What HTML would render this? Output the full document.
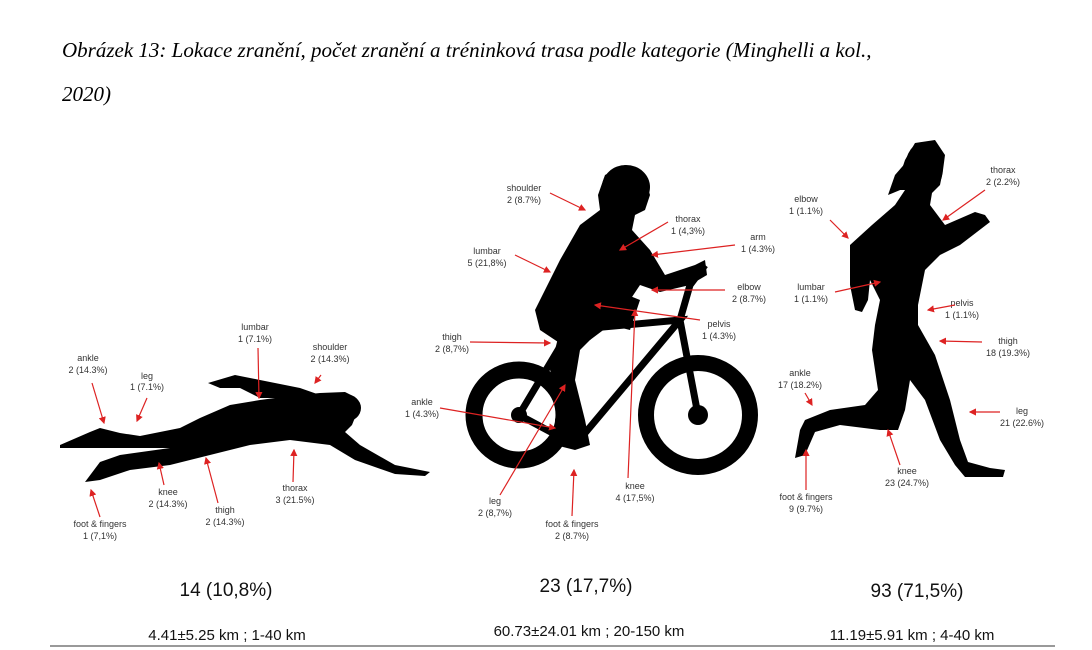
<!DOCTYPE html>
<html><head><meta charset="utf-8"><style>
html,body{margin:0;padding:0;background:#fff;}
svg{display:block}
.t{font-family:"Liberation Serif",serif;font-style:italic;font-size:21px;fill:#000}
.l{font-family:"Liberation Sans",sans-serif;font-size:9px;fill:#333;text-anchor:middle}
.b{font-family:"Liberation Sans",sans-serif;font-size:19px;fill:#111;text-anchor:middle}
.s{font-family:"Liberation Sans",sans-serif;font-size:15px;fill:#111;text-anchor:middle}
.a{stroke:#d22;stroke-width:1.2;fill:none;marker-end:url(#h)}
</style></head><body>
<svg width="1092" height="650" viewBox="0 0 1092 650">
<defs><marker id="h" markerWidth="6" markerHeight="6" refX="5" refY="3" orient="auto"><path d="M0,0L6,3L0,6z" fill="#d22"/></marker></defs>
<text class="t" x="62" y="57">Obrázek 13: Lokace zranění, počet zranění a tréninková trasa podle kategorie (Minghelli a kol.,</text>
<text class="t" x="62" y="101">2020)</text>

<!-- swimmer -->
<g fill="#000">
<path d="M60,445 L90,432 L100,428 L120,433 L140,436 L180,428 L200,418 L230,405 L260,400 L290,396 L320,393 L345,392 L355,397 L360,405 L352,425 L345,432 L360,445 L395,465 L430,472 L425,476 L395,474 L355,460 L330,445 L290,440 L250,445 L210,455 L170,465 L130,470 L100,480 L85,482 L100,462 L120,455 L170,448 L120,448 L60,448z"/>
<path d="M208,383 L235,375 L260,380 L300,388 L320,395 L290,398 L260,398 L240,388 L220,388z"/>
<ellipse cx="345" cy="408" rx="16" ry="14"/>
</g>
<!-- bike -->
<g fill="none" stroke="#000">
<circle cx="519" cy="415" r="45" stroke-width="17"/>
<circle cx="698" cy="415" r="52" stroke-width="16"/>
<path d="M519,415 L575,445 L680,320 L570,330 L519,415 M680,320 L698,415 M680,320 L690,285 L705,265" stroke-width="7"/>
</g>
<g fill="#000">
<circle cx="519" cy="415" r="8"/><circle cx="698" cy="415" r="10"/>
<ellipse cx="626" cy="187" rx="24" ry="22"/>
<path d="M605,175 L625,165 L645,178 L650,195 L645,210 L635,215 L632,230 L650,250 L665,275 L695,265 L705,260 L707,275 L690,285 L660,292 L640,285 L630,300 L615,305 L600,320 L580,330 L570,350 L555,340 L540,330 L535,310 L545,290 L560,260 L580,225 L600,210 L598,195z"/>
<path d="M560,330 L600,310 L630,295 L635,315 L600,330 L580,350 L575,380 L585,420 L590,445 L575,450 L555,445 L555,420 L560,395 L550,370z"/>
<path d="M575,300 L615,290 L640,300 L630,330 L610,325 L590,340z"/>
</g>
<!-- runner -->
<g fill="#000">
<ellipse cx="924" cy="168" rx="19" ry="26"/>
<path d="M908,160 L895,175 L888,195 L905,188z"/>
<path d="M915,143 L935,140 L945,155 L943,170 L940,185 L932,193 L930,205 L945,225 L975,212 L985,215 L990,222 L960,245 L940,255 L925,270 L918,305 L918,325 L935,355 L950,400 L960,440 L968,462 L990,468 L1005,470 L1003,477 L965,477 L955,465 L940,440 L925,400 L910,380 L905,410 L898,430 L880,430 L840,425 L815,432 L805,455 L795,458 L800,430 L805,420 L830,410 L865,405 L878,390 L872,350 L875,325 L880,300 L870,280 L868,300 L862,312 L855,310 L850,285 L850,245 L872,225 L895,205 L905,190 L890,190 L900,175 L905,160z"/>
</g>

<!-- swimmer labels -->
<text class="l" x="88" y="361">ankle</text><text class="l" x="88" y="373">2 (14.3%)</text>
<text class="l" x="147" y="379">leg</text><text class="l" x="147" y="390">1 (7.1%)</text>
<text class="l" x="255" y="330">lumbar</text><text class="l" x="255" y="342">1 (7.1%)</text>
<text class="l" x="330" y="350">shoulder</text><text class="l" x="330" y="362">2 (14.3%)</text>
<text class="l" x="168" y="495">knee</text><text class="l" x="168" y="507">2 (14.3%)</text>
<text class="l" x="225" y="513">thigh</text><text class="l" x="225" y="525">2 (14.3%)</text>
<text class="l" x="295" y="491">thorax</text><text class="l" x="295" y="503">3 (21.5%)</text>
<text class="l" x="100" y="527">foot &amp; fingers</text><text class="l" x="100" y="539">1 (7,1%)</text>
<path class="a" d="M92,383L104,423"/><path class="a" d="M147,398L137,421"/><path class="a" d="M258,348L259,398"/><path class="a" d="M321,375L315,383"/>
<path class="a" d="M164,485L159,463"/><path class="a" d="M218,503L206,458"/><path class="a" d="M293,482L294,450"/><path class="a" d="M100,517L91,490"/>
<!-- cyclist labels -->
<text class="l" x="524" y="191">shoulder</text><text class="l" x="524" y="203">2 (8.7%)</text>
<text class="l" x="688" y="222">thorax</text><text class="l" x="688" y="234">1 (4,3%)</text>
<text class="l" x="758" y="240">arm</text><text class="l" x="758" y="252">1 (4.3%)</text>
<text class="l" x="487" y="254">lumbar</text><text class="l" x="487" y="266">5 (21,8%)</text>
<text class="l" x="749" y="290">elbow</text><text class="l" x="749" y="302">2 (8.7%)</text>
<text class="l" x="719" y="327">pelvis</text><text class="l" x="719" y="339">1 (4.3%)</text>
<text class="l" x="452" y="340">thigh</text><text class="l" x="452" y="352">2 (8,7%)</text>
<text class="l" x="422" y="405">ankle</text><text class="l" x="422" y="417">1 (4.3%)</text>
<text class="l" x="495" y="504">leg</text><text class="l" x="495" y="516">2 (8,7%)</text>
<text class="l" x="635" y="489">knee</text><text class="l" x="635" y="501">4 (17,5%)</text>
<text class="l" x="572" y="527">foot &amp; fingers</text><text class="l" x="572" y="539">2 (8.7%)</text>
<path class="a" d="M550,193L585,210"/><path class="a" d="M668,222L620,250"/><path class="a" d="M735,245L652,255"/><path class="a" d="M515,255L550,272"/>
<path class="a" d="M725,290L652,290"/><path class="a" d="M700,320L595,305"/><path class="a" d="M470,342L550,343"/><path class="a" d="M440,408L555,428"/>
<path class="a" d="M500,495L565,385"/><path class="a" d="M628,478L635,310"/><path class="a" d="M572,516L574,470"/>
<!-- runner labels -->
<text class="l" x="1003" y="173">thorax</text><text class="l" x="1003" y="185">2 (2.2%)</text>
<text class="l" x="806" y="202">elbow</text><text class="l" x="806" y="214">1 (1.1%)</text>
<text class="l" x="811" y="290">lumbar</text><text class="l" x="811" y="302">1 (1.1%)</text>
<text class="l" x="962" y="306">pelvis</text><text class="l" x="962" y="318">1 (1.1%)</text>
<text class="l" x="1008" y="344">thigh</text><text class="l" x="1008" y="356">18 (19.3%)</text>
<text class="l" x="800" y="376">ankle</text><text class="l" x="800" y="388">17 (18.2%)</text>
<text class="l" x="1022" y="414">leg</text><text class="l" x="1022" y="426">21 (22.6%)</text>
<text class="l" x="907" y="474">knee</text><text class="l" x="907" y="486">23 (24.7%)</text>
<text class="l" x="806" y="500">foot &amp; fingers</text><text class="l" x="806" y="512">9 (9.7%)</text>
<path class="a" d="M985,190L943,220"/><path class="a" d="M830,220L848,238"/><path class="a" d="M835,292L880,282"/><path class="a" d="M955,305L928,310"/>
<path class="a" d="M982,342L940,341"/><path class="a" d="M805,393L812,405"/><path class="a" d="M1000,412L970,412"/><path class="a" d="M900,465L888,430"/><path class="a" d="M806,490L806,450"/>

<text class="b" x="226" y="596">14 (10,8%)</text>
<text class="b" x="586" y="592">23 (17,7%)</text>
<text class="b" x="917" y="597">93 (71,5%)</text>
<text class="s" x="227" y="640">4.41±5.25 km ; 1-40 km</text>
<text class="s" x="589" y="636">60.73±24.01 km ; 20-150 km</text>
<text class="s" x="912" y="640">11.19±5.91 km ; 4-40 km</text>
<line x1="50" y1="646" x2="1055" y2="646" stroke="#333" stroke-width="1"/>
</svg>
</body></html>
